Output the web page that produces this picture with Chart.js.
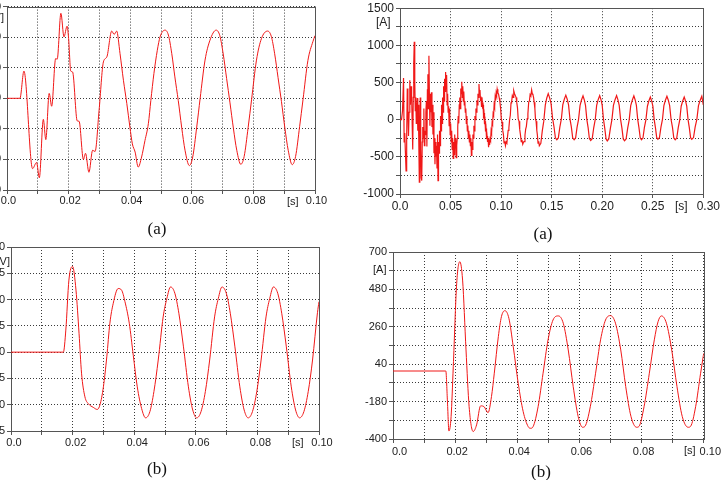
<!DOCTYPE html>
<html><head><meta charset="utf-8">
<script src="https://cdn.jsdelivr.net/npm/chart.js@4.4.0/dist/chart.umd.min.js"></script>
<style>
html,body{margin:0;padding:0;background:#fff;}
body{width:721px;height:480px;overflow:hidden;position:relative;font-family:"Liberation Sans",Arial,sans-serif;}
canvas{position:absolute;}
.t{position:absolute;font-size:12px;color:#222;white-space:nowrap;line-height:1;}
.s11{font-size:11px;}
.cap{position:absolute;font-family:"Liberation Serif","Times New Roman",serif;font-size:17px;color:#111;transform:translate(-50%,-50%);line-height:1;}
</style></head><body>
<canvas id="cA" width="390" height="217" style="left:-50px;top:-2px"></canvas>
<canvas id="cB" width="371" height="216" style="left:350px;top:-1px"></canvas>
<canvas id="cC" width="390" height="225" style="left:-50px;top:235px"></canvas>
<canvas id="cD" width="378" height="220" style="left:343px;top:240px"></canvas>

<div class="t s11" style="right:717px;top:12px">[kV]</div>
<div class="t s11" style="left:287px;top:196px">[s]</div>
<div class="t" style="left:376px;top:16px">[A]</div>
<div class="t" style="left:675px;top:200px">[s]</div>
<div class="t s11" style="right:711px;top:256px">[kV]</div>
<div class="t s11" style="left:292px;top:437px">[s]</div>
<div class="t s11" style="left:373px;top:264px">[A]</div>
<div class="t s11" style="left:684px;top:445px">[s]</div>

<div class="cap" style="left:157px;top:228px">(a)</div>
<div class="cap" style="left:543px;top:233px">(a)</div>
<div class="cap" style="left:157px;top:468px">(b)</div>
<div class="cap" style="left:541px;top:471px">(b)</div>

<script>
// ---------- (a) left: voltage [kV] vs time [s] ----------
const timeA = [0, 0.0042, 0.0055, 0.0083, 0.0096, 0.0105, 0.0118, 0.0126, 0.0137, 0.0145, 0.0158, 0.0163, 0.0175, 0.0185, 0.0195, 0.0200, 0.0207, 0.0213, 0.0228, 0.0234, 0.0248, 0.0255, 0.0266, 0.0278, 0.0286,
  0.0299, 0.0313, 0.0324, 0.0340, 0.0348, 0.0356, 0.0367, 0.0378, 0.0389, 0.0399, 0.0407, 0.0416, 0.0426, 0.0437, 0.0448, 0.0459, 0.0467, 0.0477, 0.0488, 0.0497,
  0.0513, 0.0524, 0.0535, 0.0545, 0.0556, 0.0567, 0.0578, 0.0592, 0.0603, 0.0616, 0.0627, 0.0643, 0.0659, 0.0679, 0.0691, 0.0702, 0.0713, 0.0724, 0.0735, 0.0746,
  0.0759, 0.0770, 0.0783, 0.0794, 0.0810, 0.0826, 0.0846, 0.0858, 0.0869, 0.0880, 0.0891, 0.0902, 0.0913, 0.0926, 0.0937, 0.0950, 0.0961, 0.0977, 0.0993, 0.1000];
const voltA = [0, 0, 8.9, -23, -21, -26, -6.9, -13.5, 1.6, -2.6, 13, 12.8, 27.8, 20.1, 23.6, 19.6, 8.9, 8.6, -7.4, -7.5, -20, -18, -24.2, -17, -17.4,
  -3.9, 11.9, 13.5, 22, 20.9, 22, 14.6, 5.9, -1.7, -9.4, -14.9, -17.6, -22.5, -19.2, -13.8, -8.3, -0.7, 8.1, 15.7, 20.1,
  22.3, 20.7, 14.6, 7, -0.7, -9.4, -17, -22, -19.2, -9.4, -0.1, 12.5, 19, 22.3, 20.5, 14.5, 6.5, -1.5, -9.8, -17,
  -21.6, -19, -9.5, -0.5, 12.5, 19.5, 22, 20.3, 14.6, 6.8, -1, -9.6, -17, -21.7, -19, -9.3, -0.5, 12.4, 18.5, 20.5];
const yTicksA = [-30, -20, -10, 0, 10, 20, 30];

// ---------- (a) right: current [A] vs time [s], pairs [t, i] ----------
const currentB = [
  [0,0],[0.0015,0],[0.0025,120],[0.0035,560],[0.0041,-300],[0.0047,-180],[0.0053,-420],[0.006,-690],[0.0066,-250],[0.0072,420],[0.0078,150],[0.0084,-220],[0.009,100],[0.0097,530],[0.0103,200],[0.0109,450],[0.0115,330],[0.0121,-100],[0.0126,-400],[0.0131,300],[0.0136,760],[0.0141,1050],[0.0146,520],[0.0151,120],[0.0156,300],[0.0161,-50],[0.0166,80],[0.0171,290],[0.0176,-150],[0.0181,200],[0.0186,-300],[0.0191,-840],[0.0196,-200],[0.02,300],[0.0205,-400],[0.021,-780],[0.0215,-820],[0.022,-300],[0.0225,-100],[0.023,-250],[0.0236,150],[0.0241,-350],[0.0246,-150],[0.0251,-200],[0.0256,100],[0.0261,250],[0.0266,-360],[0.0271,400],[0.0276,610],[0.0281,150],[0.0286,860],[0.0291,300],[0.0296,-80],[0.0301,350],[0.0306,100],[0.0311,370],[0.0316,-100],[0.0321,200],[0.0326,-200],[0.0331,100],[0.0336,-450],[0.0341,-250],[0.0346,-600],[0.0351,-300],[0.0356,-500],[0.0361,-350],[0.0366,-650],[0.0371,-200],[0.0376,-820],[0.0381,-300],[0.0386,-450],[0.0391,-150],[0.0396,-350],[0.0401,50],[0.0406,-150],[0.0411,200],[0.0416,-50],[0.0421,300],[0.0426,100],[0.0431,450],[0.0436,250],[0.0441,550],[0.0446,380],[0.0451,640],[0.0456,420],[0.0461,600],[0.0466,200],[0.0471,350],[0.0476,100],[0.0481,180],[0.0486,-80],[0.0491,150],[0.0496,-200],[0.0501,-50],[0.0506,-300],[0.0511,-150],[0.0516,-400],[0.0521,-250],[0.0526,-520],[0.0531,-300],[0.0536,-470],[0.0541,-200],[0.0546,-380],[0.0551,-250],[0.0556,-510],[0.0561,-350],[0.0566,-250],[0.0571,-100],[0.0576,50],[0.0581,-50],[0.0586,200],[0.0591,300],[0.0596,150],[0.0601,420],[0.0606,350],[0.0611,510],[0.0616,300],[0.0621,450],[0.0626,250],[0.0631,380],[0.0636,200],[0.0641,250],[0.0646,100],[0.0651,150],[0.0656,-50],[0.0661,50],[0.0666,-150],[0.0671,-80],[0.0676,-250],[0.0681,-150],[0.0686,-300],[0.0691,-200],[0.0696,-350],[0.0701,-250],[0.0706,-480],[0.0711,-300],[0.0716,-400],[0.0721,-200],[0.0726,-250],[0.0731,-80],[0.0736,-150],[0.0741,50],[0.0746,0],[0.0751,150],[0.0756,100],[0.0761,260],[0.0766,200],[0.0771,350],[0.0776,300],[0.0781,480],[0.0786,360],[0.0791,400],[0.0796,260],[0.0801,310],[0.0806,180],[0.0811,300],[0.0816,180],[0.0821,200],[0.0826,60],[0.0831,90],[0.0836,-60],[0.0841,-20],[0.0846,-160],[0.0851,-120],[0.0856,-260],[0.0861,-220],[0.0866,-300],[0.0871,-250],[0.0876,-370],[0.0881,-300],[0.0886,-340],[0.0891,-260],[0.0896,-280],[0.0901,-150],[0.0906,-180],[0.0911,-40],[0.0916,-60],[0.0921,80],[0.0926,60],[0.0931,200],[0.0936,170],[0.0941,300],[0.0946,260],[0.0951,360],[0.0956,330],[0.0961,410],
  [0.0968,360],[0.0975,344],[0.0982,290],[0.0988,240],[0.0995,150],[0.1002,10],[0.1009,-30],[0.1016,-140],[0.1023,-200],[0.1029,-314],[0.1036,-290],[0.1043,-350],
  [0.1050,-300],[0.1057,-315],[0.1064,-220],[0.1070,-145],[0.1077,-110],[0.1084,0],[0.1091,60],[0.1098,225],[0.1104,240],[0.1111,325],[0.1118,300],[0.1125,390],
  [0.1133,350],[0.1140,327],[0.1148,300],[0.1155,230],[0.1162,160],[0.1169,10],[0.1177,-20],[0.1184,-130],[0.1191,-200],[0.1199,-297],[0.1206,-270],[0.1214,-330],
  [0.1222,-300],[0.1229,-296],[0.1236,-210],[0.1243,-128],[0.1250,-90],[0.1258,15],[0.1265,80],[0.1273,238],[0.1280,250],[0.1287,336],[0.1294,320],[0.1302,400],
  [0.1308,350],[0.1315,335],[0.1321,300],[0.1327,233],[0.1334,150],[0.1340,5],[0.1346,-20],[0.1353,-143],[0.1359,-210],[0.1365,-315],[0.1372,-290],[0.1378,-350],
  [0.1393,-318],[0.1407,-155],[0.1422,-20],[0.1437,195],[0.1451,288],[0.1466,350],
  [0.1480,293],[0.1494,215],[0.1509,20],[0.1523,-95],[0.1537,-243],[0.1551,-270],
  [0.1566,-245],[0.1581,-100],[0.1596,10],[0.1610,200],[0.1625,275],[0.1640,330],
  [0.1654,275],[0.1667,200],[0.1681,10],[0.1695,-100],[0.1708,-245],[0.1722,-270],
  [0.1737,-245],[0.1751,-103],[0.1766,5],[0.1781,193],[0.1795,265],[0.1810,320],
  [0.1823,265],[0.1835,190],[0.1848,0],[0.1861,-110],[0.1873,-255],[0.1886,-280],
  [0.1901,-255],[0.1916,-109],[0.1931,2],[0.1945,193],[0.1960,269],[0.1975,325],
  [0.1988,269],[0.2000,193],[0.2013,0],[0.2025,-113],[0.2038,-259],[0.2050,-285],
  [0.2065,-259],[0.2081,-113],[0.2096,0],[0.2111,193],[0.2127,269],[0.2142,325],
  [0.2155,269],[0.2168,193],[0.2182,0],[0.2195,-113],[0.2208,-259],[0.2221,-285],
  [0.2236,-260],[0.2252,-114],[0.2267,-2],[0.2282,189],[0.2298,265],[0.2313,320],
  [0.2326,265],[0.2338,193],[0.2351,5],[0.2363,-103],[0.2376,-245],[0.2388,-270],
  [0.2403,-247],[0.2417,-106],[0.2432,-2],[0.2447,181],[0.2461,251],[0.2476,305],
  [0.2489,252],[0.2501,183],[0.2514,0],[0.2526,-103],[0.2539,-242],[0.2551,-265],
  [0.2566,-241],[0.2581,-100],[0.2596,5],[0.2610,190],[0.2625,261],[0.2640,315],
  [0.2654,261],[0.2667,189],[0.2681,2],[0.2695,-104],[0.2708,-246],[0.2722,-270],
  [0.2737,-247],[0.2752,-106],[0.2767,-2],[0.2781,181],[0.2796,251],[0.2811,305],
  [0.2824,252],[0.2836,183],[0.2849,0],[0.2861,-103],[0.2874,-242],[0.2886,-265],
  [0.2903,-241],[0.2919,-100],[0.2936,5],[0.2952,190],[0.2969,261],[0.2985,315],[0.3000,200]
];
const yTicksB = [-1000, -750, -500, -250, 0, 250, 500, 750, 1000, 1250, 1500];
const yLabelsB = ['-1000', '', '-500', '', '0', '', '500', '', '1000', '', '1500'];

// ---------- (b) left: voltage [kV] vs time [s] ----------
const timeC = [0, 0.0170, 0.0178, 0.0188, 0.0200, 0.0211, 0.0221, 0.0229, 0.0240, 0.0251, 0.0267, 0.0280, 0.0289, 0.0300, 0.0311, 0.0321, 0.0332, 0.0348, 0.0359, 0.0370, 0.0384, 0.0397, 0.0410, 0.0424, 0.0437,
  0.0451, 0.0464, 0.0478, 0.0494, 0.0506, 0.0518, 0.0532, 0.0545, 0.0560, 0.0576, 0.0590, 0.0603, 0.0617, 0.0631, 0.0645, 0.0661, 0.0673, 0.0685, 0.0699, 0.0712,
  0.0727, 0.0743, 0.0757, 0.0770, 0.0784, 0.0798, 0.0812, 0.0828, 0.0840, 0.0852, 0.0866, 0.0879, 0.0894, 0.0910, 0.0924, 0.0937, 0.0951, 0.0965, 0.0979, 0.0995, 0.1000];
const voltC = [0, 0, 4.2, 13.7, 16.3, 11.8, 3.5, -4, -8.5, -9.8, -10.5, -10.9, -10, -6.6, -0.9, 5.5, 9.3, 12.1, 11.8, 9.6, 5.5, -0.6, -6.6, -10.7, -12.5,
  -11.3, -7.5, -1.5, 6.7, 10.2, 12.4, 11.2, 7.4, 1, -6.6, -11, -12.5, -11.3, -7.5, -1.5, 6.7, 10.2, 12.4, 11.2, 7.4,
  1, -6.6, -11, -12.5, -11.3, -7.5, -1.5, 6.7, 10.2, 12.4, 11.2, 7.4, 1, -6.6, -11, -12.5, -11.3, -7.5, -1.5, 7.5, 9.6];
const yTicksC = [-15, -10, -5, 0, 5, 10, 15, 20];

// ---------- (b) right: current [A] vs time [s] ----------
const timeD = [0, 0.0170, 0.0175, 0.0180, 0.0187, 0.0194, 0.0205, 0.0215, 0.0224, 0.0235, 0.0245, 0.0258, 0.0269, 0.0282, 0.0293, 0.0306, 0.0317, 0.0326, 0.0339, 0.0349, 0.0360, 0.0373, 0.0387, 0.0403, 0.0419,
  0.0435, 0.0443, 0.0451, 0.0467, 0.0483, 0.0499, 0.0515, 0.0532, 0.0548, 0.0564, 0.0580, 0.0596, 0.0610, 0.0618, 0.0635, 0.0652, 0.0668, 0.0684, 0.0700, 0.0716,
  0.0733, 0.0749, 0.0766, 0.0784, 0.0792, 0.0808, 0.0825, 0.0841, 0.0853, 0.0864, 0.0880, 0.0897, 0.0914, 0.0931, 0.0950, 0.0958, 0.0974, 0.0990, 0.1000];
const currD = [0, 0, -170, -353, -268, 26, 516, 643, 535, 124, -210, -356, -317, -205, -210, -245, -150, -13, 202, 320, 355, 310, 143, -72, -239,
  -327, -337, -327, -210, -13, 183, 300, 324, 281, 124, -92, -268, -331, -325, -210, -13, 183, 300, 326, 281,
  124, -92, -268, -331, -325, -210, -13, 183, 290, 324, 281, 124, -92, -268, -331, -325, -210, -13, 104];
const yTicksD = [-400, -290, -180, -70, 40, 150, 260, 370, 480, 590, 700];
const yLabelsD = ['-400', '', '-180', '', '40', '', '260', '', '480', '', '700'];

// shared x ticks
const xTicks10 = [0, 0.01, 0.02, 0.03, 0.04, 0.05, 0.06, 0.07, 0.08, 0.09, 0.1];
const xLabels10 = ['0.0', '', '0.02', '', '0.04', '', '0.06', '', '0.08', '', '0.10'];
const xTicks30 = [0, 0.05, 0.1, 0.15, 0.2, 0.25, 0.3];
const xLabels30 = ['0.0', '0.05', '0.10', '0.15', '0.20', '0.25', '0.30'];

const RED = '#f01818';
const AXIS = '#555555';
const GRID = '#3a3a3a';
const TXT = '#222222';
const FAM = '"Liberation Sans", Arial, sans-serif';

const boxPlugin = {
  id: 'box',
  beforeDatasetsDraw(chart) {
    const a = chart.chartArea, ctx = chart.ctx;
    ctx.save();
    ctx.strokeStyle = AXIS; ctx.lineWidth = 1;
    ctx.strokeRect(Math.round(a.left) + 0.5, Math.round(a.top) + 0.5, Math.round(a.right - a.left), Math.round(a.bottom - a.top));
    ctx.restore();
  }
};

function build(id, points, c) {
  const font = {family: FAM, size: c.fs};
  const n = c.xTicks.length;
  const pad = (s, k) => ' '.repeat(k) + s;
  return new Chart(document.getElementById(id), {
    type: 'line',
    data: {datasets: [{data: points, borderColor: RED, borderWidth: c.lw || 1, pointRadius: 0, fill: false,
      tension: c.mono ? 0.4 : 0, cubicInterpolationMode: c.mono ? 'monotone' : 'default'}]},
    options: {
      responsive: false, animation: false, events: [],
      layout: {padding: c.pad},
      plugins: {legend: {display: false}, tooltip: {enabled: false}},
      scales: {
        x: {
          type: 'linear', min: c.xTicks[0], max: c.xTicks[n - 1],
          afterBuildTicks: s => { s.ticks = c.xTicks.map(v => ({value: v})); },
          afterFit: s => { s.height = c.xh; },
          grid: {color: GRID, tickColor: AXIS, tickLength: 4, drawTicks: true},
          border: {display: true, color: AXIS, width: 1, dash: [1, 2]},
          ticks: {autoSkip: false, maxRotation: 0, color: TXT, font, padding: c.xpad, labelOffset: c.lo || 0,
            callback: (v, i) => i === 0 ? pad(c.xLabels[i], c.first || 0) : (i === n - 1 ? pad(c.xLabels[i], c.last || 0) : c.xLabels[i])}
        },
        y: {
          type: 'linear', min: c.yTicks[0], max: c.yTicks[c.yTicks.length - 1],
          afterBuildTicks: s => { s.ticks = c.yTicks.map(v => ({value: v})); },
          afterFit: s => { s.width = c.yw; },
          grid: {color: GRID, tickColor: AXIS, tickLength: 4, drawTicks: true},
          border: {display: true, color: AXIS, width: 1, dash: [1, 2]},
          ticks: {autoSkip: false, color: TXT, font, padding: 2,
            callback: (v, i) => c.yLabels[i]}
        }
      }
    },
    plugins: [boxPlugin]
  });
}

const pairs = (ts, vs) => ts.map((t, i) => ({x: t, y: vs[i]}));

build('cA', pairs(timeA, voltA), {pad: {left: 0, top: 8, right: 25, bottom: 0}, yw: 57, xh: 25, xpad: 0, mono: true, fs: 11, lo: 1.5,
  xTicks: xTicks10, xLabels: xLabels10, yTicks: yTicksA, yLabels: yTicksA.map(String)});
build('cB', currentB.map(p => ({x: p[0], y: p[1]})), {pad: {left: 0, top: 8, right: 16, bottom: 0}, yw: 50, xh: 21, xpad: 1, mono: false, lw: 1.2, fs: 12, last: 3,
  xTicks: xTicks30, xLabels: xLabels30, yTicks: yTicksB, yLabels: yLabelsB});
build('cC', pairs(timeC, voltC), {pad: {left: 0, top: 12, right: 21, bottom: 0}, yw: 61, xh: 29, xpad: 1, mono: true, fs: 11, lo: 3,
  xTicks: xTicks10, xLabels: xLabels10, yTicks: yTicksC, yLabels: yTicksC.map(String)});
build('cD', pairs(timeD, currD), {pad: {left: 0, top: 12, right: 17, bottom: 0}, yw: 50, xh: 21, xpad: 2, mono: true, fs: 11, lo: 2, first: 3, last: 3,
  xTicks: xTicks10, xLabels: xLabels10, yTicks: yTicksD, yLabels: yLabelsD});
</script>
</body></html>
